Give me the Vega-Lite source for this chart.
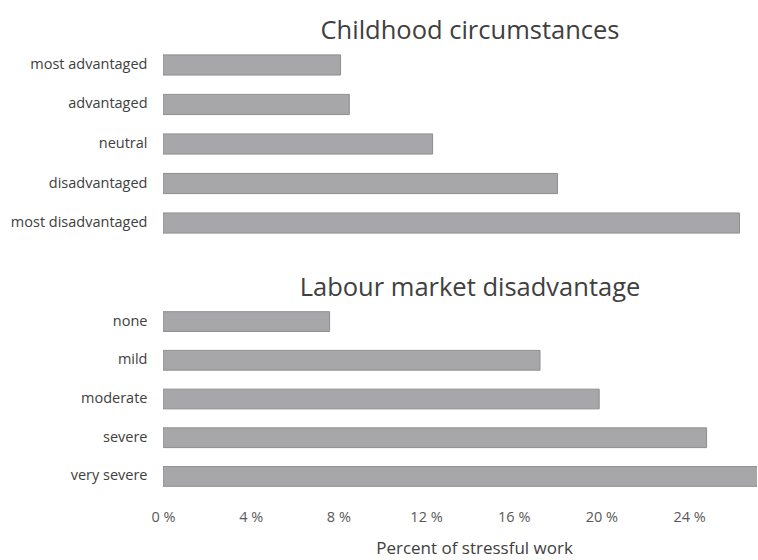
{
  "$schema": "https://vega.github.io/schema/vega-lite/v6.json",
  "padding": {"left": 10, "top": 18, "right": 0, "bottom": 0},
  "spacing": 32,
  "config": {
    "view": {"stroke": null},
    "font": "Open Sans",
    "title": {"fontSize": 25.5, "fontWeight": "normal", "color": "#404040", "anchor": "middle", "offset": 1, "dx": 10},
    "axis": {"labelColor": "#404040", "labelFontSize": 14.5, "titleColor": "#404040", "titleFontWeight": "normal", "grid": false, "domain": false, "ticks": false}
  },
  "vconcat": [
    {
      "title": "Childhood circumstances",
      "width": 594,
      "height": 198,
      "data": {"values": [
        {"category": "most advantaged", "pct": 8.1},
        {"category": "advantaged", "pct": 8.5},
        {"category": "neutral", "pct": 12.3},
        {"category": "disadvantaged", "pct": 18.0},
        {"category": "most disadvantaged", "pct": 26.3}
      ]},
      "mark": {"type": "bar", "fill": "#a7a7aa", "stroke": "#8e8e90", "strokeWidth": 1, "clip": true},
      "encoding": {
        "y": {"field": "category", "type": "nominal", "sort": null, "scale": {"paddingInner": 0.49, "paddingOuter": 0.25}, "axis": {"title": null, "labelPadding": 16}},
        "x": {"field": "pct", "type": "quantitative", "scale": {"domain": [0, 27.1], "nice": false}, "axis": null}
      }
    },
    {
      "title": "Labour market disadvantage",
      "width": 594,
      "height": 194,
      "data": {"values": [
        {"category": "none", "pct": 7.6},
        {"category": "mild", "pct": 17.2},
        {"category": "moderate", "pct": 19.9},
        {"category": "severe", "pct": 24.8},
        {"category": "very severe", "pct": 27.2}
      ]},
      "mark": {"type": "bar", "fill": "#a7a7aa", "stroke": "#8e8e90", "strokeWidth": 1, "clip": true},
      "encoding": {
        "y": {"field": "category", "type": "nominal", "sort": null, "scale": {"paddingInner": 0.49, "paddingOuter": 0.25}, "axis": {"title": null, "labelPadding": 16}},
        "x": {"field": "pct", "type": "quantitative", "scale": {"domain": [0, 27.1], "nice": false},
          "axis": {"values": [0, 4, 8, 12, 16, 20, 24], "labelExpr": "datum.value + ' %'", "labelFlush": false, "labelPadding": 14, "labelColor": "#595959", "title": "Percent of stressful work", "titleFontSize": 17, "titlePadding": 17, "titleX": 311}}
      }
    }
  ]
}
